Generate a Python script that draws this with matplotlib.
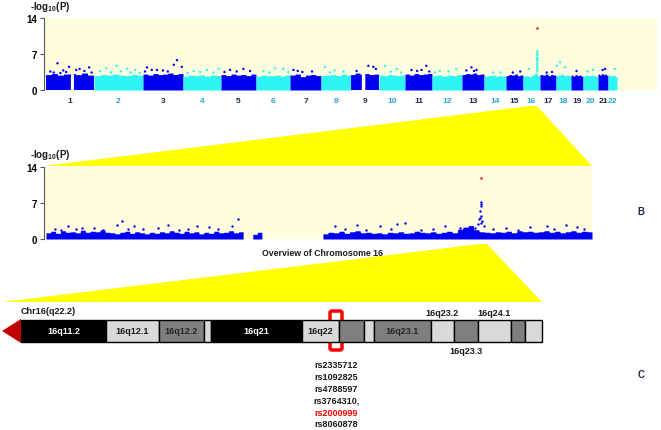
import numpy as np
import matplotlib.pyplot as plt
from matplotlib.patches import Polygon, Rectangle, FancyBboxPatch

plt.rcParams['font.family'] = ['Liberation Sans', 'DejaVu Sans']
plt.rcParams['mathtext.fontset'] = 'custom'
plt.rcParams['mathtext.rm'] = 'Liberation Sans'
plt.rcParams['mathtext.bf'] = 'Liberation Sans:bold'

# ********************** panel A: genome wide *************************
chroms = [str(i) for i in range(1, 23)]
chrom_width = [48, 49, 40, 38, 35, 34, 31, 30, 28, 26, 27, 30, 22, 22, 17, 17, 16, 15, 12, 15, 10, 9]
band_top = [
    [2.9, 3.1, 2.8, 3.0, 3.1, 2.9, 3.2, 2.8],
    [2.8, 3.0, 2.9, 3.1, 2.9, 2.8, 3.0, 2.9],
    [3.1, 2.9, 3.2, 3.0, 3.1, 3.3, 3.0, 3.2],
    [2.7, 2.9, 2.8, 2.9, 2.7, 2.9, 2.8],
    [3.0, 2.8, 3.1, 2.9, 3.0, 2.8, 3.1],
    [2.7, 2.9, 2.8, 2.8, 2.9, 2.7, 2.9],
    [2.9, 3.1, 2.6, 2.9, 3.0, 2.8],
    [2.8, 2.9, 3.0, 2.8, 3.1, 2.9],
    [2.9, 3.2, 3.0, 3.1, 2.9, 3.0],
    [2.9, 2.8, 3.0, 2.9, 2.8, 2.9],
    [3.1, 2.9, 3.2, 3.0, 3.1, 3.2],
    [2.8, 2.9, 2.7, 2.9, 2.8, 3.0],
    [3.0, 3.2, 3.1, 3.3, 3.0, 3.1],
    [2.7, 2.8, 2.9, 2.7, 2.8, 2.7],
    [2.8, 3.0, 2.9, 3.1, 2.8, 2.9],
    [2.7, 2.8, 2.6, 2.9, 3.3, 2.8],
    [3.0, 2.9, 3.1, 2.8, 3.0, 2.9],
    [2.8, 2.9, 3.1, 2.8, 2.9, 2.8],
    [2.9, 2.7, 3.0, 2.8, 2.9, 2.7],
    [2.7, 2.9, 2.8, 2.9, 2.8, 2.7],
    [3.1, 2.9, 3.2, 3.0, 3.1, 2.9],
    [2.8, 2.9, 2.7, 2.9, 2.8, 2.6],
]
chrom_gap = {1: (0.52, 0.58), 9: (0.39, 0.51)}
# (chromosome, relative position, -log10 P)
hits_a = [
    (1, 0.24, 5.2), (1, 0.48, 4.5), (1, 0.90, 4.4), (1, 0.70, 4.1), (1, 0.09, 3.6), (1, 0.36, 3.8), (1, 0.63, 3.9),
    (1, 0.80, 3.7), (1, 0.16, 3.4), (1, 0.30, 3.3), (1, 0.42, 3.5), (1, 0.95, 3.4),
    (2, 0.46, 4.7), (2, 0.25, 4.2), (2, 0.67, 4.1), (2, 0.12, 3.7), (2, 0.84, 3.9), (2, 0.55, 3.6), (2, 0.35, 3.4),
    (2, 0.75, 3.4), (2, 0.93, 3.3),
    (3, 0.85, 5.8), (3, 0.97, 4.5), (3, 0.77, 4.9), (3, 0.10, 4.4), (3, 0.35, 3.9), (3, 0.50, 3.8), (3, 0.22, 3.9),
    (3, 0.62, 3.6), (3, 0.05, 3.6),
    (4, 0.28, 3.7), (4, 0.63, 3.9), (4, 0.94, 4.1), (4, 0.45, 3.5), (4, 0.12, 3.3), (4, 0.80, 3.4),
    (5, 0.26, 3.9), (5, 0.64, 4.1), (5, 0.83, 3.7), (5, 0.45, 3.6), (5, 0.10, 3.5),
    (6, 0.56, 4.2), (6, 0.80, 4.1), (6, 0.22, 3.7), (6, 0.40, 3.4), (6, 0.95, 3.5),
    (7, 0.11, 3.9), (7, 0.71, 3.6), (7, 0.40, 3.5), (7, 0.25, 3.7),
    (8, 0.13, 4.5), (8, 0.45, 3.8), (8, 0.75, 3.6), (8, 0.30, 3.4),
    (9, 0.62, 4.7), (9, 0.80, 4.5), (9, 0.89, 4.1), (9, 0.20, 3.7),
    (10, 0.23, 4.7), (10, 0.68, 4.1), (10, 0.45, 3.6), (10, 0.85, 3.4),
    (11, 0.79, 4.7), (11, 0.61, 3.9), (11, 0.24, 3.9), (11, 0.45, 3.7), (11, 0.90, 3.6),
    (12, 0.26, 3.7), (12, 0.81, 4.1), (12, 0.55, 3.6), (12, 0.10, 3.4),
    (13, 0.43, 4.4), (13, 0.66, 3.9), (13, 0.20, 3.8), (13, 0.55, 3.7),
    (14, 0.42, 3.4), (14, 0.75, 3.4),
    (15, 0.84, 3.6), (15, 0.40, 3.4),
    (16, 0.34, 4.1), (16, 0.84, 7.5), (16, 0.84, 7.1), (16, 0.84, 6.8), (16, 0.84, 6.3), (16, 0.84, 6.0),
    (16, 0.84, 5.7), (16, 0.84, 5.2), (16, 0.84, 4.8), (16, 0.84, 4.4), (16, 0.83, 4.0), (16, 0.85, 3.6),
    (17, 0.42, 3.4), (17, 0.75, 3.5),
    (18, 0.27, 5.4), (18, 0.05, 4.7), (18, 0.60, 4.4),
    (19, 0.46, 3.7),
    (20, 0.67, 3.9), (20, 0.30, 3.6),
    (21, 0.46, 3.9), (21, 0.71, 4.1),
    (22, 0.74, 4.1),
]
top_hit_a = (16, 0.84, 12.1)

# ********************** panel B: chromosome 16 ************************
b_region_start = [0.0, 34.2, 45.8]
b_region_end = [32.6, 35.7, 90.3]
b_profile = [
    [1.2, 1.5, 1.1, 1.6, 1.3, 1.4, 1.2, 1.7, 1.3, 1.5, 1.4, 1.8, 1.3, 1.2, 1.0, 1.3, 1.5, 1.1, 1.4, 1.2, 1.0, 1.3,
     1.1, 1.4, 1.2, 1.6, 1.3, 1.1, 1.5, 1.2, 1.4, 1.0, 1.3, 1.1, 1.5, 1.2, 1.3, 1.6, 1.2, 1.4],
    [0.9, 1.3],
    [1.0, 1.3, 1.2, 1.5, 1.1, 1.4, 1.6, 1.2, 1.3, 1.1, 1.2, 1.0, 1.3, 1.2, 1.4, 1.1, 1.2, 1.5, 1.3, 1.2,
     1.4, 1.1, 1.3, 1.5, 1.2, 1.9, 2.3, 2.6, 1.8, 1.4, 1.3, 1.2, 1.4, 1.3, 1.5, 1.2, 1.6, 1.4, 1.5, 1.3,
     1.4, 1.6, 1.3, 1.5, 1.2, 1.4, 1.6, 1.3, 1.5, 1.4],
]
# (position Mb, -log10 P)
hits_b = [
    (1.5, 2.0), (3.6, 2.6), (6.0, 2.1), (8.0, 2.2), (11.8, 2.8), (12.6, 3.4), (14.5, 2.5), (18.5, 2.2),
    (20.2, 2.7), (25.0, 2.6), (27.0, 2.3), (30.8, 2.5), (31.8, 3.9),
    (2.5, 1.8), (5.0, 1.9), (9.5, 1.8), (13.5, 2.0), (16.0, 1.9), (22.0, 1.8), (23.5, 2.0), (28.5, 1.9),
    (47.8, 2.6), (51.4, 2.7), (55.2, 2.5), (58.0, 2.9), (59.4, 3.1), (66.0, 2.5), (68.5, 2.1),
    (76.0, 2.2), (80.0, 2.3), (82.8, 2.6), (86.0, 2.7), (87.9, 2.3),
    (49.5, 1.9), (53.0, 1.8), (57.0, 2.0), (62.0, 1.8), (64.0, 1.9), (74.0, 1.9), (78.0, 1.8),
    (84.0, 2.0), (89.0, 1.9),
    (71.9, 7.1), (71.9, 6.8), (72.0, 6.3), (71.8, 5.5), (71.9, 4.5), (71.7, 4.0), (72.1, 3.5),
    (71.5, 2.9), (72.4, 2.6), (70.9, 2.2), (72.0, 3.1), (71.6, 3.8),
]
top_hit_b = (71.9, 11.9)

# ********************** panel C: ideogram ****************************
band_edges = [21, 106, 159, 204, 211, 302, 339, 364, 374, 431, 454, 478, 511, 525, 542]
band_stain = ['k', 'l', 'd', 'l', 'k', 'l', 'd', 'l', 'd', 'l', 'd', 'l', 'd', 'l']
band_inside = ['16q11.2', '16q12.1', '16q12.2', '', '16q21', '16q22', '', '', '16q23.1', '', '', '', '', '']
band_above = {9: '16q23.2', 11: '16q24.1'}
band_below = {10: '16q23.3'}
snps = ['rs2335712', 'rs1092825', 'rs4788597', 'rs3764310,', 'rs2000999', 'rs8060878']
snp_top = 'rs2000999'

blue = '#0000F5'
cyan = '#2EF5F5'
pale = '#FFFDDE'
yellow = '#FFFF00'
navy = '#1C2A4A'
light_lab = '#2BA4D8'
stain_col = {'k': '#000000', 'l': '#D9D9D9', 'd': '#7F7F7F'}
stain_txt = {'k': 'white', 'l': '#1A1A1A', 'd': '#262626'}

W, H = 661, 431
fig = plt.figure(figsize=(W / 100, H / 100), dpi=100)

# overlay in pixel units for connectors and ideogram
ov = fig.add_axes([0, 0, 1, 1])
ov.set_xlim(0, W)
ov.set_ylim(H, 0)
ov.axis('off')

ov.add_patch(Polygon([(44, 167), (530, 107), (537, 107), (592, 167)], closed=True, color=yellow, lw=0))
ov.add_patch(Polygon([(2, 303), (480, 245), (487, 245), (542, 303)], closed=True, color=yellow, lw=0))
ov.text(323, 254, 'Overview of Chromosome 16', ha='center', va='center', fontsize=6.3, fontweight='bold', color='#1A1A1A')


def style_panel(ax):
    ax.set_facecolor(pale)
    for s in ['top', 'right', 'bottom']:
        ax.spines[s].set_visible(False)
    ax.spines['left'].set_color('#595959')
    ax.spines['left'].set_linewidth(0.8)
    ax.set_ylim(0, 14)
    ax.set_yticks([0, 7, 14])
    ax.tick_params(axis='y', length=3, width=0.8, color='#595959', labelsize=7, pad=2)
    for t in ax.get_yticklabels():
        t.set_fontweight('bold')


# ---- panel A
axa = fig.add_axes([44 / W, 1 - 91 / H, 613 / W, 72 / H])
style_panel(axa)
starts = np.concatenate([[0], np.cumsum(chrom_width)[:-1]])
for i, (w, prof) in enumerate(zip(chrom_width, band_top)):
    col = blue if i % 2 == 0 else cyan
    frac = np.linspace(0, 1, 300)
    n = len(prof)
    y = np.array(prof)[np.minimum((frac * n).astype(int), n - 1)]
    mask = np.ones_like(frac, dtype=bool)
    if i + 1 in chrom_gap:
        g0, g1 = chrom_gap[i + 1]
        mask = ~((frac > g0) & (frac < g1))
    axa.fill_between(starts[i] + frac * w, 0, y, where=mask, color=col, lw=0)
hx = [starts[c - 1] + f * chrom_width[c - 1] for c, f, v in hits_a]
hy = [v for c, f, v in hits_a]
hc = [blue if (c - 1) % 2 == 0 else cyan for c, f, v in hits_a]
axa.scatter(hx, hy, s=3, c=hc, lw=0)
c, f, v = top_hit_a
axa.scatter([starts[c - 1] + f * chrom_width[c - 1]], [v], s=3, c='red', lw=0)
axa.set_xlim(-2, 611)
axa.set_xticks(starts + np.array(chrom_width) / 2)
axa.set_xticklabels(chroms)
axa.tick_params(axis='x', length=0, pad=5, labelsize=6)
for i, t in enumerate(axa.get_xticklabels()):
    t.set_fontweight('bold')
    t.set_color(navy if i % 2 == 0 else light_lab)

# ---- panel B
axb = fig.add_axes([44 / W, 1 - 240 / H, 548 / W, 72.3 / H])
style_panel(axb)
for s0, s1, prof in zip(b_region_start, b_region_end, b_profile):
    frac = np.linspace(0, 1, 400)
    n = len(prof)
    y = np.array(prof)[np.minimum((frac * n).astype(int), n - 1)]
    axb.fill_between(s0 + frac * (s1 - s0), 0, y, color=blue, lw=0)
axb.scatter([p for p, v in hits_b], [v for p, v in hits_b], s=3, c=blue, lw=0)
axb.scatter([top_hit_b[0]], [top_hit_b[1]], s=3, c='red', lw=0)
axb.set_xlim(-0.33, 90.3)
axb.set_xticks([])

for ax_y in [7, 155]:
    ov.text(50, ax_y, r'-log$_{\mathbf{10}}$(P)', ha='center', va='center', fontsize=7, fontweight='bold', color='#1A1A1A')

# ---- panel C
bar_top, bar_bot = 321, 343
ov.add_patch(FancyBboxPatch((330, 312), 12, 39, boxstyle='round,pad=0,rounding_size=2',
                            fc='white', ec='#FF0000', lw=2.5, zorder=1))
for i in range(len(band_stain)):
    x0, x1 = band_edges[i], band_edges[i + 1]
    ov.add_patch(Rectangle((x0, bar_top), x1 - x0, bar_bot - bar_top, fc=stain_col[band_stain[i]],
                           ec='#000000', lw=1.0, zorder=2))
    if band_inside[i]:
        ov.text((x0 + x1) / 2, (bar_top + bar_bot) / 2, band_inside[i], ha='center', va='center',
                fontsize=6.5, fontweight='bold', color=stain_txt[band_stain[i]], zorder=3)
for i, lab in band_above.items():
    ov.text((band_edges[i] + band_edges[i + 1]) / 2, 314, lab, ha='center', va='center',
            fontsize=6.5, fontweight='bold', color='#1A1A1A')
for i, lab in band_below.items():
    ov.text((band_edges[i] + band_edges[i + 1]) / 2, 352, lab, ha='center', va='center',
            fontsize=6.5, fontweight='bold', color='#1A1A1A')
ov.add_patch(Polygon([(2, 332), (21, 320), (21, 344)], closed=True, color='#C00000', lw=0, zorder=2))
ov.text(21, 312, 'Chr16(q22.2)', ha='left', va='center', fontsize=6.5, fontweight='bold', color='#1A1A1A')

for k, s in enumerate(snps):
    ov.text(336, 366 + k * 11.8, s, ha='center', va='center', fontsize=6.5, fontweight='bold',
            color='#FF0000' if s == snp_top else '#1A1A1A')

for lab, y in [('A', 53), ('B', 212), ('C', 375)]:
    ov.text(641, y, lab, ha='center', va='center', fontsize=7, fontweight='bold', color=navy)

fig.savefig('out.png', dpi=100)
